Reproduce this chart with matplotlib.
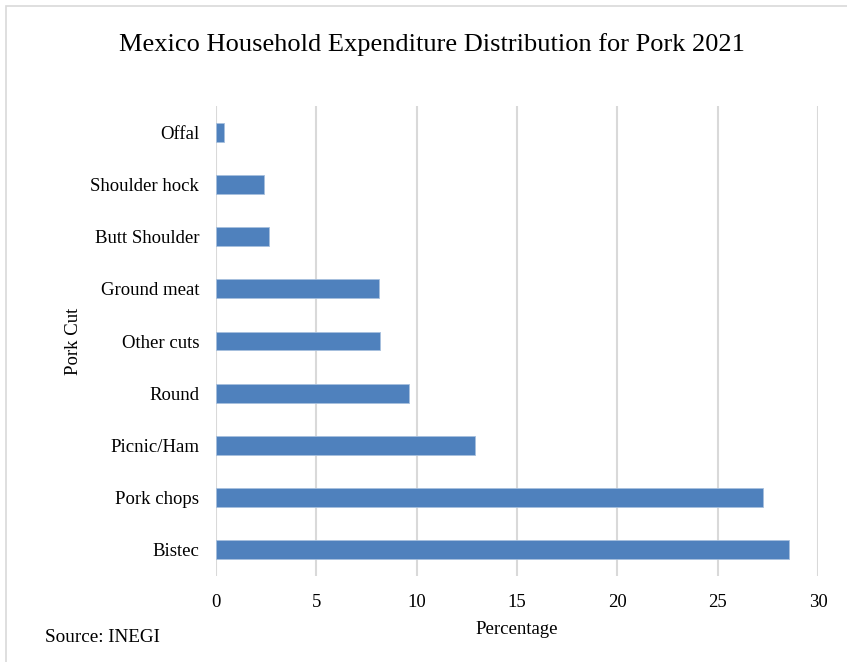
import matplotlib
matplotlib.use("Agg")
import matplotlib.pyplot as plt
from matplotlib.patches import Rectangle

# pork cuts, bottom to top as drawn
cuts = ["Bistec", "Pork chops", "Picnic/Ham", "Round", "Other cuts",
        "Ground meat", "Butt Shoulder", "Shoulder hock", "Offal"]
share = [28.55, 27.25, 12.9, 9.6, 8.15, 8.1, 2.65, 2.4, 0.4]
xticks = [0, 5, 10, 15, 20, 25, 30]

plt.rcParams["font.family"] = ["Liberation Serif", "DejaVu Serif"]

fig = plt.figure(figsize=(8.47, 6.62), dpi=100)
ax = fig.add_axes([216 / 847, 1 - 576 / 662, 602 / 847, 470 / 662])

# outer frame
fig.patches.append(Rectangle((6 / 847, -0.01), 1.0, 1 - 6 / 662 + 0.01,
                             transform=fig.transFigure, fill=False,
                             edgecolor="#d9d9d9", linewidth=1.2))

ax.barh(range(len(cuts)), share, height=0.36, color="#4f81bd",
        edgecolor="#a7c0de", linewidth=0.6, zorder=3)

ax.set_xlim(0, 30)
ax.set_ylim(-0.5, len(cuts) - 0.5)
ax.set_xticks(xticks)
ax.set_yticks(range(len(cuts)))
ax.set_yticklabels(cuts)
ax.grid(axis="x", color="#d9d9d9", linewidth=1.5, zorder=0)
for s in ax.spines.values():
    s.set_visible(False)
ax.tick_params(axis="both", length=0, labelsize=13.5)
ax.tick_params(axis="x", pad=13)
ax.tick_params(axis="y", pad=12)

ax.set_xlabel("Percentage", fontsize=13.5, labelpad=7)
ax.set_ylabel("Pork Cut", fontsize=13.5)
ax.yaxis.set_label_coords(-0.222, 0.5)

fig.text(432 / 847, 1 - 45 / 662, "Mexico Household Expenditure Distribution for Pork 2021",
         ha="center", va="center", fontsize=19)
fig.text(45 / 847, 1 - 638 / 662, "Source: INEGI", ha="left", va="center", fontsize=13.8)

fig.savefig("out.png", dpi=100)
